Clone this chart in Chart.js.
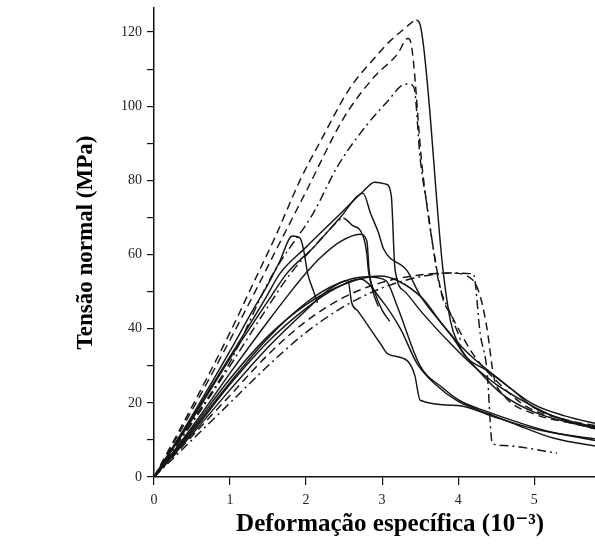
<!DOCTYPE html>
<html>
<head>
<meta charset="utf-8">
<script src="https://cdn.jsdelivr.net/npm/chart.js@4.4.1/dist/chart.umd.min.js"></script>
<style>
  html, body { margin: 0; padding: 0; background: #fff; }
  canvas { display: block; }
</style>
</head>
<body>
<canvas id="c" width="595" height="547"></canvas>
<script>
// Strain (10^-3) vs stress (MPa)
const xTicks = [0, 1, 2, 3, 4, 5];
const yTicks = [0, 20, 40, 60, 80, 100, 120];

const curveA = [[0,0],[0.5,19],[1.0,39],[1.3,52],[1.6,65],[1.92,80],[2.2,91],[2.58,105],[2.9,113],[3.1,117.5],[3.3,121],[3.45,123.2],[3.5,122],[3.8,56],[3.9,42],[4.0,36],[4.3,28],[4.6,22],[5.0,17.5],[5.5,14.5],[5.9,13]];
const curveB = [[0,0],[0.5,18],[1.0,37],[1.33,50],[1.6,61],[2.0,77],[2.5,97],[2.9,108],[3.2,114],[3.34,118.3],[3.38,117],[3.53,83],[3.72,56],[3.8,48],[3.9,44],[4.2,33],[4.5,26],[4.9,19],[5.4,15.5],[5.9,13.5]];
const curveC = [[0,0],[0.5,15],[1.0,31],[1.49,52],[1.66,58],[2.09,71],[2.42,84],[2.8,95],[3.1,102],[3.25,105.5],[3.35,106],[3.42,105],[3.5,86],[3.6,72],[3.7,58],[3.75,52],[3.9,44],[4.05,36]];
const curveD = [[0,0],[0.5,16],[1.0,32.5],[1.46,48],[1.66,55],[2.0,62],[2.4,70],[2.75,77],[2.9,79.5],[3.05,79],[3.12,76],[3.17,56],[3.3,50],[3.54,44],[3.9,36],[4.2,30],[4.5,25],[4.9,20],[5.3,16],[5.9,12.5]];
const curveE = [[0,0],[0.5,15.5],[1.0,32],[1.5,47.5],[1.75,55],[2.1,62],[2.45,70],[2.75,76.5],[2.85,71],[2.95,66],[3.02,61.5],[3.33,55.6],[3.5,49],[3.8,41],[4.1,34],[4.5,27],[5.0,19.5],[5.4,16.5],[5.9,14]];
const curveF = [[0,0],[0.5,16.5],[1.0,34],[1.3,45],[1.5,52],[1.65,58],[1.82,65],[1.92,64.5],[1.97,61],[2.02,55],[2.1,50],[2.15,47]];
const curveG = [[0,0],[0.5,14.5],[1.0,30],[1.5,46],[1.8,55],[2.1,62],[2.3,66.5],[2.49,69.8],[2.6,68],[2.75,65],[2.8,60],[2.82,55.6],[2.9,50],[3.0,45],[3.1,42]];
const curveH = [[0,0],[0.5,13.5],[1.0,28],[1.5,42],[1.8,50],[2.0,55],[2.18,59],[2.45,63.5],[2.71,65.5],[2.8,63.6],[2.83,55.6],[2.88,50],[2.95,46]];
const curveI = [[0,0],[0.5,13],[1.0,26.5],[1.5,38],[2.0,46.5],[2.5,52],[2.97,54.2],[3.2,53],[3.54,48],[3.76,42],[3.93,37.6],[4.12,32],[4.38,28.7],[4.72,23.4],[4.99,18.8],[5.4,15.5],[5.9,13]];
const curveJ = [[0,0],[0.5,12],[1.0,25],[1.5,36.5],[2.0,45.5],[2.4,51],[2.71,53.4],[3.0,47.5],[3.24,40],[3.46,30.6],[3.7,25],[3.99,20.5],[4.38,17.2],[4.72,14.5],[5.25,10.5],[5.9,8]];
const curveK = [[0,0],[0.5,11.5],[1.0,23.5],[1.5,35],[2.0,45],[2.3,50.5],[2.55,53],[2.6,47],[2.68,44.8],[2.97,36.2],[3.07,33.3],[3.33,31.4],[3.43,27.4],[3.5,20.7],[3.99,19.3],[4.5,16],[5.0,13],[5.5,11],[5.9,9.5]];
const curveL = [[0,0],[0.5,12.5],[1.0,25.5],[1.5,37.5],[2.0,47],[2.4,52],[2.8,54],[3.05,53],[3.2,46],[3.5,30],[3.8,24],[4.03,20.5],[4.4,17.5],[4.75,15],[5.25,12],[5.9,10]];
const curveM = [[0,0],[0.5,10],[1.0,20],[1.5,30],[2.0,39],[2.5,46],[3.0,51],[3.5,54],[3.9,55],[4.2,54.8],[4.29,38.7],[4.38,28.7],[4.45,9],[4.6,8.5],[5.0,7.5],[5.3,6.4]];
const curveN = [[0,0],[0.5,11],[1.0,22],[1.5,33],[2.0,42],[2.5,48.5],[3.0,52.5],[3.5,54.5],[3.9,55],[4.2,53],[4.3,48],[4.38,40],[4.47,27],[4.6,22],[5.0,17],[5.5,14.5],[5.9,12.5]];

const DASH = [8, 5];
const DASHDOT = [9, 4, 2, 4];

function toPts(arr) { return arr.map(p => ({x: p[0], y: p[1]})); }

// style: [data, dash before peak, dash after peak, peak index]
const styles = [
  [curveA, DASH, [], 11],
  [curveB, DASH, DASH, 0],
  [curveC, DASHDOT, DASHDOT, 0],
  [curveD, [], [], 0],
  [curveE, [], [], 0],
  [curveF, [], [], 0],
  [curveG, DASHDOT, [], 7],
  [curveH, [], [], 0],
  [curveI, [], [], 0],
  [curveJ, [], [], 0],
  [curveK, [], [], 0],
  [curveL, [], [], 0],
  [curveM, DASHDOT, DASHDOT, 0],
  [curveN, DASH, DASH, 0]
];

const datasets = styles.map(([arr, d1, d2, pk]) => ({
  data: toPts(arr),
  borderColor: '#151515',
  borderWidth: 1.45,
  pointRadius: 0,
  fill: false,
  showLine: true,
  cubicInterpolationMode: 'monotone',
  borderDash: d1,
  segment: {
    borderDash: ctx => (pk > 0 && ctx.p0DataIndex >= pk) ? d2 : d1
  }
}));

const serif = '"Liberation Serif", "DejaVu Serif", serif';

new Chart(document.getElementById('c'), {
  type: 'scatter',
  data: { datasets },
  options: {
    responsive: false,
    animation: false,
    layout: { padding: { left: 72, top: 8, right: 0, bottom: 0 } },
    plugins: { legend: { display: false }, tooltip: { enabled: false } },
    scales: {
      x: {
        type: 'linear', min: 0, max: 5.8,
        afterFit: s => { s.height = 70; },
        afterBuildTicks: s => { s.ticks = xTicks.map(v => ({value: v})); },
        grid: { display: true, drawOnChartArea: false, drawTicks: true, tickLength: 8, color: '#111', lineWidth: 1.2 },
        border: { display: true, color: '#111', width: 1.5 },
        ticks: { padding: 7, color: '#222', font: { family: serif, size: 14 }, maxRotation: 0 },
        title: { display: true, text: '     Deformação específica (10⁻³)', color: '#000',
                 font: { family: serif, size: 25, weight: 'bold' }, padding: { top: 0, bottom: 7 } }
      },
      y: {
        type: 'linear', min: 0, max: 126.5,
        afterFit: s => { s.width = 82; s.paddingTop = 0; },
        afterBuildTicks: s => {
          const t = [];
          for (let v = 0; v <= 120; v += 10) t.push({value: v});
          s.ticks = t;
        },
        grid: { display: true, drawOnChartArea: false, drawTicks: true, tickLength: 7, color: '#111', lineWidth: 1.2 },
        border: { display: true, color: '#111', width: 1.5 },
        ticks: { padding: 5, color: '#222', font: { family: serif, size: 14 },
                 callback: v => (yTicks.includes(v) ? String(v) : '') },
        title: { display: true, text: 'Tensão normal (MPa)', color: '#000',
                 font: { family: serif, size: 23, weight: 'bold' }, padding: { top: 0, bottom: 0 } }
      }
    }
  }
});
</script>
</body>
</html>
